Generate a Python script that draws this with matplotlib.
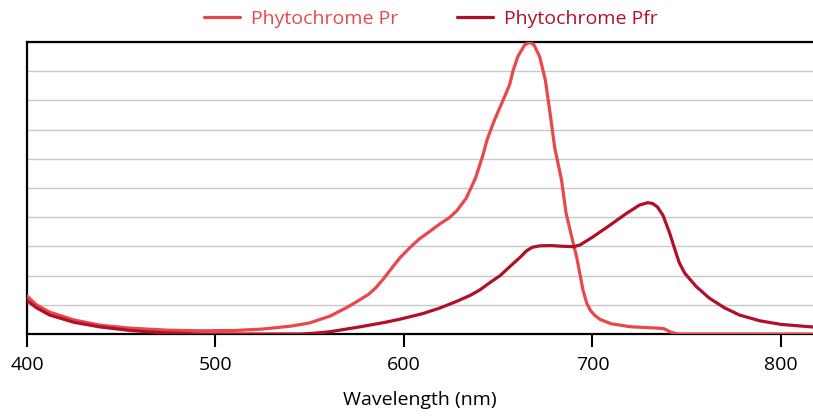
import matplotlib
matplotlib.use('Agg')
import matplotlib.pyplot as plt

plt.rcParams['font.family'] = ['Open Sans', 'DejaVu Sans']

# Phytochrome Pr absorbance
pr_nm = [400, 405, 412, 425, 439, 455, 475, 492, 510, 525, 540, 550, 561, 570,
         576, 581, 585, 589, 592, 595, 598, 603, 608, 614, 619, 624, 628, 633,
         638, 642, 644, 648, 652.5, 656, 658, 660.5, 664, 666.8, 669, 672, 675,
         677.5, 680, 683.6, 686, 689, 691.6, 693.5, 695, 697, 699, 701, 704,
         710, 720, 735, 738, 742, 746, 760, 817]
pr_abs = [0.13, 0.10, 0.075, 0.048, 0.03, 0.02, 0.013, 0.011, 0.012, 0.017,
          0.027, 0.038, 0.062, 0.092, 0.115, 0.135, 0.158, 0.188, 0.213, 0.238,
          0.262, 0.295, 0.325, 0.353, 0.377, 0.398, 0.422, 0.465, 0.535, 0.615,
          0.664, 0.733, 0.80, 0.853, 0.905, 0.952, 0.99, 1.0, 0.99, 0.95, 0.87,
          0.757, 0.637, 0.527, 0.414, 0.332, 0.264, 0.2, 0.15, 0.105, 0.08,
          0.065, 0.05, 0.035, 0.025, 0.02, 0.018, 0.005, 0.0, 0.0, 0.0]

# Phytochrome Pfr absorbance
pfr_nm = [400, 405, 412, 425, 439, 455, 470, 492, 545, 553, 561, 577, 590, 598,
          610, 619, 628, 635, 640, 646, 651, 656, 662, 665, 668, 672, 678, 683,
          690, 693.4, 700.3, 709.3, 718, 725, 729.4, 732, 734.5, 737.4, 741,
          743.7, 746, 749, 755, 762, 770, 778, 789, 800, 817]
pfr_abs = [0.115, 0.09, 0.065, 0.04, 0.024, 0.012, 0.005, 0.0, 0.0, 0.003,
           0.008, 0.025, 0.04, 0.051, 0.07, 0.089, 0.112, 0.132, 0.15, 0.178,
           0.2, 0.23, 0.265, 0.285, 0.297, 0.302, 0.303, 0.301, 0.299, 0.305,
           0.333, 0.373, 0.413, 0.442, 0.45, 0.447, 0.435, 0.407, 0.345,
           0.29, 0.245, 0.208, 0.163, 0.123, 0.09, 0.065, 0.045, 0.033, 0.024]

pr_color = '#e8484a'
pfr_color = '#b01028'

fig = plt.figure(figsize=(8.13, 4.17), dpi=100)
ax = fig.add_axes([0.0332, 0.199, 0.9668, 0.7])

ax.plot(pr_nm, pr_abs, color=pr_color, lw=2.3, label='Phytochrome Pr',
        solid_capstyle='round', solid_joinstyle='round', zorder=3)
ax.plot(pfr_nm, pfr_abs, color=pfr_color, lw=2.3, label='Phytochrome Pfr',
        solid_capstyle='round', solid_joinstyle='round', zorder=3)

ax.set_xlim(400, 817)
ax.set_ylim(0, 1)
ax.set_xticks([400, 500, 600, 700, 800])
ax.set_yticks([i / 10 for i in range(11)])
ax.set_yticklabels([])
ax.tick_params(axis='y', length=0)
ax.tick_params(axis='x', direction='out', length=9, width=1.5, labelsize=14,
               pad=7, colors='black')
ax.grid(axis='y', color='#c8c8c8', lw=1.0, zorder=0)
ax.set_axisbelow(True)

for s in ['left', 'top', 'bottom']:
    ax.spines[s].set_linewidth(1.6)
    ax.spines[s].set_color('black')
ax.spines['right'].set_visible(False)

ax.set_xlabel('Wavelength (nm)', fontsize=14, labelpad=12)

fig.legend(loc='center', bbox_to_anchor=(0.53, 0.955), ncol=2, frameon=False,
           fontsize=14, labelcolor='linecolor', handlelength=1.85,
           columnspacing=3.0, handletextpad=0.6)

fig.savefig('out.png', dpi=100)
